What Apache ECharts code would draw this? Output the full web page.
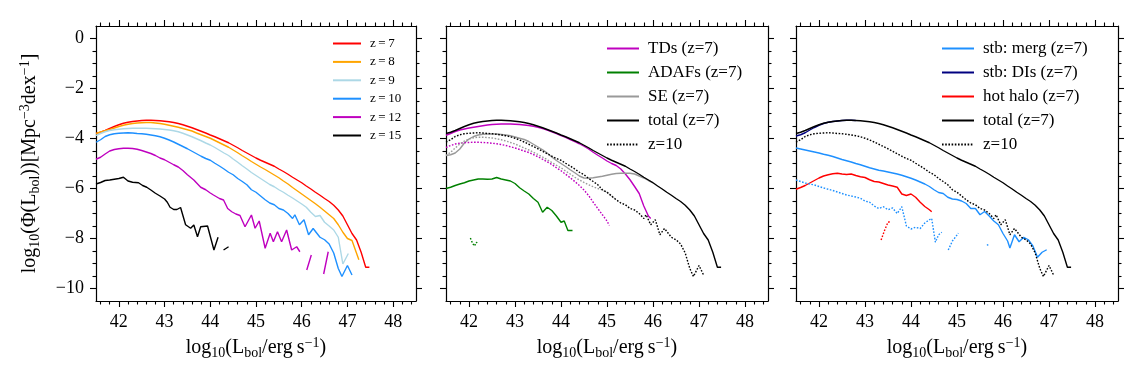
<!DOCTYPE html>
<html>
<head>
<meta charset="utf-8">
<script src="https://cdn.jsdelivr.net/npm/echarts@6/dist/echarts.min.js"></script>
<style>
html, body { margin: 0; padding: 0; background: #fff; }
#container { width: 1138px; height: 370px; }
</style>
</head>
<body>
<div id="container"></div>
<script>
// ---- tick labels ----
var xMajor = [42, 43, 44, 45, 46, 47, 48];
var yMajor = [0, -2, -4, -6, -8, -10];

// ---- panel 1: total LF at several redshifts ----
var z7 = [[41.5,-3.80],[41.6,-3.75],[41.7,-3.68],[41.8,-3.60],[41.9,-3.52],[42.0,-3.45],[42.1,-3.39],[42.2,-3.35],[42.3,-3.32],[42.4,-3.30],[42.5,-3.28],[42.6,-3.27],[42.7,-3.27],[42.8,-3.28],[42.9,-3.29],[43.0,-3.31],[43.1,-3.33],[43.2,-3.36],[43.3,-3.40],[43.4,-3.45],[43.5,-3.51],[43.6,-3.57],[43.7,-3.64],[43.8,-3.71],[43.9,-3.78],[44.0,-3.86],[44.1,-3.93],[44.2,-4.01],[44.3,-4.09],[44.4,-4.17],[44.5,-4.27],[44.6,-4.37],[44.7,-4.48],[44.8,-4.58],[44.9,-4.68],[45.0,-4.78],[45.1,-4.87],[45.2,-4.95],[45.3,-5.03],[45.4,-5.11],[45.5,-5.22],[45.6,-5.32],[45.7,-5.43],[45.8,-5.55],[45.9,-5.66],[46.0,-5.77],[46.1,-5.90],[46.2,-6.02],[46.3,-6.15],[46.4,-6.27],[46.5,-6.40],[46.6,-6.52],[46.7,-6.67],[46.8,-6.86],[46.9,-7.10],[47.0,-7.45],[47.1,-7.80],[47.2,-8.06],[47.3,-8.55],[47.4,-9.15],[47.48,-9.15]];
var z8 = [[41.5,-3.80],[41.6,-3.74],[41.7,-3.69],[41.8,-3.64],[41.9,-3.58],[42.0,-3.52],[42.1,-3.47],[42.2,-3.43],[42.3,-3.40],[42.4,-3.38],[42.5,-3.37],[42.6,-3.36],[42.7,-3.36],[42.8,-3.38],[42.9,-3.40],[43.0,-3.43],[43.1,-3.47],[43.2,-3.51],[43.3,-3.55],[43.4,-3.60],[43.5,-3.65],[43.6,-3.70],[43.7,-3.78],[43.8,-3.85],[43.9,-3.92],[44.0,-3.99],[44.1,-4.08],[44.2,-4.17],[44.3,-4.26],[44.4,-4.35],[44.5,-4.46],[44.6,-4.57],[44.7,-4.69],[44.8,-4.80],[44.9,-4.92],[45.0,-5.03],[45.1,-5.14],[45.2,-5.24],[45.3,-5.35],[45.4,-5.46],[45.5,-5.57],[45.6,-5.70],[45.7,-5.82],[45.8,-5.96],[45.9,-6.09],[46.0,-6.22],[46.1,-6.35],[46.2,-6.48],[46.3,-6.61],[46.4,-6.75],[46.5,-6.90],[46.6,-7.05],[46.7,-7.20],[46.8,-7.45],[46.9,-7.75],[47.0,-8.00],[47.1,-8.08],[47.25,-8.85]];
var z9 = [[41.5,-3.88],[41.6,-3.80],[41.7,-3.73],[41.8,-3.68],[41.9,-3.65],[42.0,-3.63],[42.1,-3.61],[42.2,-3.60],[42.3,-3.59],[42.4,-3.59],[42.5,-3.59],[42.6,-3.59],[42.7,-3.60],[42.8,-3.61],[42.9,-3.62],[43.0,-3.64],[43.1,-3.66],[43.2,-3.69],[43.3,-3.73],[43.4,-3.79],[43.5,-3.86],[43.6,-3.93],[43.7,-4.01],[43.8,-4.09],[43.9,-4.18],[44.0,-4.26],[44.1,-4.36],[44.2,-4.47],[44.3,-4.58],[44.4,-4.68],[44.5,-4.82],[44.6,-4.95],[44.7,-5.09],[44.8,-5.22],[44.9,-5.36],[45.0,-5.48],[45.1,-5.60],[45.2,-5.72],[45.3,-5.84],[45.4,-5.93],[45.5,-6.05],[45.6,-6.15],[45.7,-6.27],[45.8,-6.38],[45.9,-6.50],[46.0,-6.62],[46.1,-6.75],[46.2,-6.95],[46.3,-7.12],[46.4,-7.08],[46.5,-7.35],[46.6,-7.50],[46.7,-7.66],[46.8,-7.95],[46.9,-9.02],[47.02,-8.60]];
var z10 = [[41.5,-4.15],[41.6,-4.05],[41.7,-3.92],[41.8,-3.85],[41.9,-3.81],[42.0,-3.79],[42.1,-3.78],[42.2,-3.77],[42.3,-3.78],[42.4,-3.80],[42.5,-3.81],[42.6,-3.83],[42.7,-3.86],[42.8,-3.89],[42.9,-3.93],[43.0,-3.99],[43.1,-4.06],[43.2,-4.14],[43.3,-4.23],[43.4,-4.32],[43.5,-4.41],[43.6,-4.51],[43.7,-4.61],[43.8,-4.71],[43.9,-4.80],[44.0,-4.87],[44.1,-4.99],[44.2,-5.10],[44.3,-5.22],[44.4,-5.35],[44.5,-5.45],[44.6,-5.60],[44.7,-5.72],[44.8,-5.85],[44.9,-6.05],[45.0,-6.15],[45.1,-6.30],[45.2,-6.45],[45.3,-6.58],[45.4,-6.65],[45.5,-6.80],[45.6,-6.86],[45.7,-7.00],[45.8,-7.20],[45.85,-7.05],[45.95,-7.45],[46.05,-7.25],[46.15,-7.85],[46.25,-7.60],[46.4,-7.95],[46.5,-8.05],[46.6,-8.22],[46.7,-8.58],[46.8,-9.20],[46.88,-9.52],[47.0,-9.08],[47.1,-9.46]];
var z12 = [[41.5,-4.83],[41.6,-4.75],[41.7,-4.62],[41.8,-4.50],[41.9,-4.44],[42.0,-4.41],[42.1,-4.39],[42.2,-4.39],[42.3,-4.40],[42.4,-4.43],[42.5,-4.48],[42.6,-4.54],[42.7,-4.60],[42.8,-4.68],[42.9,-4.78],[43.0,-4.85],[43.1,-4.95],[43.2,-5.05],[43.3,-5.14],[43.4,-5.28],[43.5,-5.45],[43.64,-5.66],[43.79,-5.95],[43.9,-6.05],[44.0,-6.18],[44.07,-6.26],[44.2,-6.40],[44.29,-6.46],[44.38,-6.80],[44.47,-6.93],[44.56,-7.02],[44.65,-7.08],[44.76,-7.53],[44.9,-7.06],[44.98,-7.59],[45.07,-7.30],[45.2,-8.39],[45.31,-7.79],[45.38,-8.13],[45.47,-7.73],[45.56,-8.13],[45.67,-7.66],[45.78,-8.46],[45.89,-8.33],[45.96,-8.53],[46.0,'-'],[46.11,-9.26],[46.21,-8.66],[46.3,'-'],[46.48,-9.42],[46.58,-8.53]];
var z15 = [[41.5,-5.82],[41.6,-5.76],[41.7,-5.68],[41.8,-5.66],[41.9,-5.63],[42.0,-5.60],[42.1,-5.55],[42.2,-5.70],[42.3,-5.75],[42.43,-5.77],[42.52,-5.88],[42.61,-5.95],[42.7,-6.06],[42.8,-6.19],[42.9,-6.30],[43.0,-6.42],[43.06,-6.55],[43.12,-6.75],[43.2,-6.84],[43.27,-6.84],[43.35,-6.76],[43.46,-7.45],[43.57,-7.59],[43.64,-7.46],[43.72,-7.93],[43.79,-7.53],[43.94,-7.50],[44.08,-8.46],[44.17,-7.95],[44.23,'-'],[44.29,-8.46],[44.4,-8.33]];

// ---- panel 2: accretion modes ----
var tdZ7 = [[41.5,-3.87],[41.6,-3.80],[41.7,-3.72],[41.8,-3.66],[41.9,-3.62],[42.0,-3.58],[42.1,-3.55],[42.2,-3.52],[42.3,-3.49],[42.4,-3.46],[42.5,-3.44],[42.6,-3.43],[42.7,-3.42],[42.8,-3.42],[42.9,-3.42],[43.0,-3.43],[43.1,-3.44],[43.2,-3.46],[43.3,-3.48],[43.4,-3.51],[43.5,-3.55],[43.6,-3.60],[43.7,-3.66],[43.8,-3.73],[43.9,-3.80],[44.0,-3.88],[44.1,-3.95],[44.2,-4.04],[44.3,-4.12],[44.4,-4.21],[44.5,-4.31],[44.6,-4.42],[44.7,-4.55],[44.8,-4.67],[44.9,-4.78],[45.0,-4.90],[45.1,-5.00],[45.2,-5.08],[45.3,-5.22],[45.4,-5.42],[45.5,-5.65],[45.6,-5.92],[45.7,-6.20],[45.8,-6.70],[45.9,-7.10],[45.95,-7.20]];
var adafZ7 = [[41.5,-6.00],[41.6,-5.95],[41.7,-5.88],[41.8,-5.82],[41.9,-5.77],[42.0,-5.70],[42.1,-5.66],[42.2,-5.62],[42.3,-5.62],[42.4,-5.63],[42.5,-5.62],[42.6,-5.56],[42.7,-5.62],[42.8,-5.66],[42.9,-5.70],[43.0,-5.80],[43.1,-5.97],[43.2,-6.10],[43.3,-6.22],[43.4,-6.40],[43.5,-6.55],[43.6,-6.95],[43.7,-6.75],[43.8,-6.88],[43.9,-7.10],[44.0,-7.35],[44.07,-7.30],[44.15,-7.68],[44.25,-7.68]];
var seZ7 = [[41.5,-4.68],[41.6,-4.65],[41.7,-4.58],[41.8,-4.42],[41.9,-4.18],[42.0,-4.02],[42.1,-3.92],[42.2,-3.86],[42.3,-3.83],[42.4,-3.82],[42.5,-3.82],[42.6,-3.82],[42.7,-3.84],[42.8,-3.86],[42.9,-3.89],[43.0,-3.94],[43.1,-3.99],[43.2,-4.04],[43.3,-4.12],[43.4,-4.23],[43.5,-4.34],[43.6,-4.45],[43.7,-4.58],[43.8,-4.74],[43.9,-4.88],[44.0,-5.00],[44.1,-5.12],[44.2,-5.25],[44.3,-5.37],[44.4,-5.50],[44.5,-5.58],[44.6,-5.59],[44.7,-5.57],[44.8,-5.54],[44.9,-5.51],[45.0,-5.47],[45.1,-5.43],[45.2,-5.40],[45.3,-5.39],[45.4,-5.39],[45.5,-5.39],[45.6,-5.42],[45.7,-5.50],[45.8,-5.58],[45.9,-5.68],[46.0,-5.77]];
var tdZ10 = [[41.5,-4.36],[41.6,-4.28],[41.7,-4.22],[41.8,-4.19],[41.9,-4.17],[42.0,-4.16],[42.1,-4.15],[42.2,-4.15],[42.3,-4.16],[42.4,-4.17],[42.5,-4.19],[42.6,-4.21],[42.7,-4.24],[42.8,-4.28],[42.9,-4.33],[43.0,-4.38],[43.1,-4.44],[43.2,-4.50],[43.3,-4.56],[43.4,-4.64],[43.5,-4.73],[43.6,-4.83],[43.7,-4.93],[43.8,-5.04],[43.9,-5.17],[44.0,-5.29],[44.1,-5.43],[44.2,-5.57],[44.3,-5.72],[44.4,-5.88],[44.5,-6.06],[44.6,-6.28],[44.7,-6.55],[44.8,-6.80],[44.9,-7.05],[45.0,-7.30],[45.05,-7.48]];
var adafZ10 = [[42.03,-7.98],[42.08,-8.20],[42.12,-8.30],[42.16,-8.15],[42.2,-8.22]];
var seZ10 = [[41.5,-4.68],[41.6,-4.55],[41.7,-4.38],[41.8,-4.22],[41.9,-4.10],[42.0,-4.02],[42.1,-3.97],[42.2,-3.95],[42.3,-3.95],[42.4,-3.96],[42.5,-3.98],[42.6,-4.01],[42.7,-4.05],[42.8,-4.10],[42.9,-4.16],[43.0,-4.22],[43.1,-4.30],[43.2,-4.38],[43.3,-4.46],[43.4,-4.55],[43.5,-4.64],[43.6,-4.74],[43.7,-4.85],[43.8,-4.96],[43.9,-5.07],[44.0,-5.17],[44.1,-5.30],[44.2,-5.42],[44.3,-5.55],[44.4,-5.66],[44.5,-5.76],[44.6,-5.85],[44.7,-5.93],[44.8,-6.00],[44.9,-6.06],[45.0,-6.15],[45.1,-6.30],[45.2,-6.45]];

// ---- panel 3: triggering channels ----
var mergZ7 = [[41.5,-4.38],[41.6,-4.42],[41.7,-4.46],[41.8,-4.50],[41.9,-4.54],[42.0,-4.58],[42.1,-4.63],[42.2,-4.67],[42.3,-4.72],[42.4,-4.78],[42.5,-4.84],[42.6,-4.89],[42.7,-4.94],[42.8,-5.00],[42.9,-5.05],[43.0,-5.11],[43.1,-5.17],[43.2,-5.22],[43.3,-5.27],[43.4,-5.30],[43.5,-5.34],[43.6,-5.38],[43.7,-5.42],[43.8,-5.47],[43.9,-5.53],[44.0,-5.59],[44.1,-5.66],[44.2,-5.74],[44.3,-5.82],[44.4,-5.92],[44.5,-6.05],[44.6,-6.16],[44.7,-6.20],[44.8,-6.35],[44.9,-6.42],[45.0,-6.44],[45.1,-6.50],[45.2,-6.60],[45.3,-6.80],[45.4,-6.80],[45.5,-7.05],[45.6,-6.92],[45.7,-7.10],[45.8,-7.30],[45.9,-7.45],[46.0,-7.80],[46.1,-8.10],[46.15,-8.38],[46.25,-7.85],[46.35,-8.13],[46.45,-7.95],[46.55,-8.05],[46.65,-8.30],[46.75,-8.75],[46.85,-8.55],[46.95,-8.45]];
var disZ7 = [[41.5,-3.90],[41.6,-3.85],[41.7,-3.77],[41.8,-3.66],[41.9,-3.56],[42.0,-3.47],[42.1,-3.40],[42.2,-3.35],[42.3,-3.32],[42.4,-3.30],[42.5,-3.28],[42.6,-3.27],[42.7,-3.27],[42.8,-3.28]];
var haloZ7 = [[41.5,-6.03],[41.6,-5.96],[41.7,-5.88],[41.8,-5.78],[41.9,-5.68],[42.0,-5.58],[42.1,-5.50],[42.2,-5.45],[42.3,-5.41],[42.4,-5.39],[42.5,-5.42],[42.6,-5.44],[42.7,-5.42],[42.8,-5.48],[42.9,-5.53],[43.0,-5.56],[43.1,-5.65],[43.2,-5.72],[43.3,-5.74],[43.4,-5.80],[43.5,-5.86],[43.6,-5.90],[43.7,-5.95],[43.8,-6.22],[43.9,-6.28],[44.0,-6.22],[44.1,-6.35],[44.2,-6.55],[44.3,-6.72],[44.4,-6.85],[44.45,-6.93]];
var mergZ10 = [[41.5,-5.66],[41.6,-5.72],[41.7,-5.78],[41.8,-5.82],[41.9,-5.86],[42.0,-5.92],[42.1,-5.98],[42.2,-6.03],[42.3,-6.08],[42.4,-6.14],[42.5,-6.20],[42.6,-6.26],[42.7,-6.30],[42.8,-6.34],[42.9,-6.39],[43.0,-6.50],[43.1,-6.55],[43.2,-6.70],[43.3,-6.80],[43.4,-6.73],[43.5,-6.85],[43.6,-6.78],[43.7,-7.00],[43.8,-6.73],[43.9,-7.50],[44.0,-7.62],[44.1,-7.55],[44.2,-7.60],[44.3,-7.38],[44.4,-7.25],[44.45,-7.20],[44.53,-8.15],[44.6,-7.85],[44.67,-7.75],[44.74,'-'],[44.81,-8.46],[44.9,-8.10],[45.03,-7.79],[45.3,'-'],[45.65,-8.24],[45.69,-8.28]];
var haloZ10 = [[43.35,-8.06],[43.42,-7.70],[43.5,-7.35],[43.56,-7.32]];

var FONT = 'Liberation Serif';
var labelMap = {
    'z=7': 'z\u2009=\u20097', 'z=8': 'z\u2009=\u20098', 'z=9': 'z\u2009=\u20099',
    'z=10': 'z\u2009=\u200910', 'z=12': 'z\u2009=\u200912', 'z=15': 'z\u2009=\u200915',
    'tot10': 'z=10'
};

var xMinor = [];
for (var k = 208; k <= 242; k++) { if (k % 5 !== 0) xMinor.push(k / 5); }
var yMinor = [];
for (var j = -20; j <= 0; j++) { if (j % 4 !== 0) yMinor.push(j / 2); }

var grids = [
    { left: 96, top: 26, width: 320, height: 275 },
    { left: 446, top: 26, width: 322, height: 275 },
    { left: 796, top: 26, width: 322, height: 275 }
];

var nameRich = {
    t: { fontFamily: FONT, fontSize: 20, lineHeight: 24, color: '#000' },
    s: { fontFamily: FONT, fontSize: 14, lineHeight: 13, verticalAlign: 'bottom', color: '#000' },
    p: { fontFamily: FONT, fontSize: 14, lineHeight: 13, verticalAlign: 'top', color: '#000' }
};

function xAxisFor(g, pos, major, withLabel) {
    var ax = {
        type: 'value', gridIndex: g, position: pos, min: 41.5, max: 48.5,
        axisLine: { show: major, onZero: false, lineStyle: { color: '#000', width: 1.2 } },
        axisTick: { show: true, inside: false, length: major ? 6 : 3.5,
            customValues: major ? xMajor : xMinor, lineStyle: { color: '#000', width: 1.1 } },
        axisLabel: { show: withLabel, customValues: xMajor, margin: 12,
            fontFamily: FONT, fontSize: 18, color: '#000' },
        splitLine: { show: false }
    };
    if (withLabel) {
        ax.name = '{t|log}{s|10}{t|(L}{s|bol}{t|/erg\u2009s}{p|\u22121}{t|)}';
        ax.nameLocation = 'middle';
        ax.nameGap = 34;
        ax.nameTextStyle = { fontFamily: FONT, fontSize: 20, color: '#000', rich: nameRich };
    }
    return ax;
}

function yAxisFor(g, pos, major, withLabel) {
    var ax = {
        type: 'value', gridIndex: g, position: pos, min: -10.5, max: 0.5,
        axisLine: { show: major, onZero: false, lineStyle: { color: '#000', width: 1.2 } },
        axisTick: { show: true, inside: false, length: major ? 6 : 3.5,
            customValues: major ? yMajor : yMinor, lineStyle: { color: '#000', width: 1.1 } },
        axisLabel: { show: withLabel, customValues: yMajor, margin: 12,
            fontFamily: FONT, fontSize: 18, color: '#000',
            formatter: function (v) { return v === 0 ? '0' : '\u2212' + Math.abs(v); } },
        splitLine: { show: false }
    };
    if (withLabel) {
        ax.name = '{t|log}{s|10}{t|(\u03A6(L}{s|bol}{t|))[Mpc}{p|\u22123}{t|dex}{p|\u22121}{t|]}';
        ax.nameLocation = 'middle';
        ax.nameRotate = 90;
        ax.nameGap = 54;
        ax.nameTextStyle = { fontFamily: FONT, fontSize: 20, color: '#000', rich: nameRich };
    }
    return ax;
}

var xAxes = [], yAxes = [];
for (var g = 0; g < 3; g++) {
    // major first (bottom/left with labels, then top/right), minor after
    xAxes.push(xAxisFor(g, 'bottom', true, true));
    xAxes.push(xAxisFor(g, 'top', true, false));
    xAxes.push(xAxisFor(g, 'bottom', false, false));
    xAxes.push(xAxisFor(g, 'top', false, false));
    yAxes.push(yAxisFor(g, 'left', true, g === 0));
    yAxes.push(yAxisFor(g, 'right', true, false));
    yAxes.push(yAxisFor(g, 'left', false, false));
    yAxes.push(yAxisFor(g, 'right', false, false));
}

function line(name, data, color, g, dotted) {
    return {
        name: name, type: 'line', xAxisIndex: g * 4, yAxisIndex: g * 4,
        data: data, showSymbol: false, symbol: 'none', connectNulls: false,
        silent: true, animation: false,
        lineStyle: { color: color, width: 1.4, type: dotted ? [1.6, 1.6] : 'solid' },
        itemStyle: { color: color }
    };
}

var series = [
    line('z=7', z7, '#ff0000', 0),
    line('z=8', z8, '#ffa500', 0),
    line('z=9', z9, '#add8e6', 0),
    line('z=10', z10, '#1e90ff', 0),
    line('z=12', z12, '#bf00bf', 0),
    line('z=15', z15, '#000000', 0),

    line('TDs (z=7)', tdZ7, '#bf00bf', 1),
    line('ADAFs (z=7)', adafZ7, '#008000', 1),
    line('SE (z=7)', seZ7, '#999999', 1),
    line('total (z=7)', z7, '#000000', 1),
    line('TDs z10', tdZ10, '#bf00bf', 1, true),
    line('ADAFs z10', adafZ10, '#008000', 1, true),
    line('SE z10', seZ10, '#999999', 1, true),
    line('tot10', z10, '#000000', 1, true),

    line('stb: merg (z=7)', mergZ7, '#1e90ff', 2),
    line('stb: DIs (z=7)', disZ7, '#000080', 2),
    line('hot halo (z=7)', haloZ7, '#ff0000', 2),
    line('total (z=7)', z7, '#000000', 2),
    line('merg z10', mergZ10, '#1e90ff', 2, true),
    line('halo z10', haloZ10, '#ff0000', 2, true),
    line('tot10', z10, '#000000', 2, true)
];

function legendFor(names, left, top, w, h, gap, fs) {
    return {
        data: names, left: left, top: top, orient: 'vertical', padding: 0,
        itemWidth: w, itemHeight: h, itemGap: gap, selectedMode: false,
        itemStyle: { opacity: 0 },
        formatter: function (n) { return labelMap[n] || n; },
        textStyle: { fontFamily: FONT, fontSize: fs, color: '#000', padding: [0, 0, 0, 4] }
    };
}

var dom = document.getElementById('container');
var myChart = echarts.init(dom, null, { renderer: 'canvas' });

var option = {
    backgroundColor: '#fff',
    animation: false,
    grid: grids,
    xAxis: xAxes,
    yAxis: yAxes,
    legend: [
        legendFor(['z=7', 'z=8', 'z=9', 'z=10', 'z=12', 'z=15'], 332, 37, 28, 12, 5.4, 13),
        legendFor(['TDs (z=7)', 'ADAFs (z=7)', 'SE (z=7)', 'total (z=7)', 'tot10'], 606, 40, 32, 16, 7.0, 17),
        legendFor(['stb: merg (z=7)', 'stb: DIs (z=7)', 'hot halo (z=7)', 'total (z=7)', 'tot10'], 941, 40, 32, 16, 7.0, 17)
    ],
    series: series
};

myChart.setOption(option);
window.addEventListener('resize', myChart.resize);
</script>
</body>
</html>
